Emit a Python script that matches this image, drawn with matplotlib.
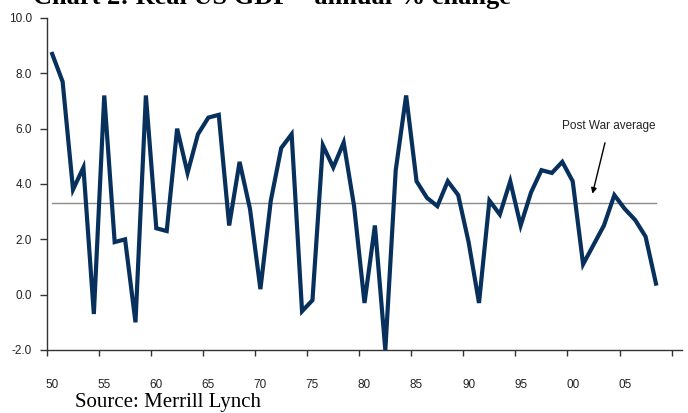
import numpy as np
import matplotlib
matplotlib.use('Agg')
import matplotlib.pyplot as plt

# annual real GDP growth, % change
years = np.arange(1950, 2009)
gdp = [8.7, 7.7, 3.8, 4.6, -0.7, 7.2, 1.9, 2.0, -1.0, 7.2,
       2.4, 2.3, 6.0, 4.4, 5.8, 6.4, 6.5, 2.5, 4.8, 3.1,
       0.2, 3.4, 5.3, 5.8, -0.6, -0.2, 5.4, 4.6, 5.5, 3.2,
       -0.3, 2.5, -2.0, 4.5, 7.2, 4.1, 3.5, 3.2, 4.1, 3.6,
       1.9, -0.3, 3.4, 2.9, 4.1, 2.5, 3.7, 4.5, 4.4, 4.8,
       4.1, 1.1, 1.8, 2.5, 3.6, 3.1, 2.7, 2.1, 0.4]
post_war_avg = 3.3

tick_years = np.arange(1950, 2010, 5)
tick_labels = ['50', '55', '60', '65', '70', '75', '80', '85', '90', '95', '00', '05']
y_ticks = [-2, 0, 2, 4, 6, 8, 10]

fig = plt.figure(figsize=(6.88, 4.13), dpi=100)
ax = fig.add_axes([47 / 688, 1 - 350 / 413, 635 / 688, 332 / 413])

ax.plot(years, gdp, color='#07305c', lw=3.0, solid_joinstyle='miter', zorder=3)
ax.plot([years[0], years[-1]], [post_war_avg, post_war_avg], color='#8c8c8c', lw=1.0, zorder=2)

ax.set_xlim(1949.5, 2010.5)
ax.set_ylim(-2, 10)

# ticks sit between categories, labels under the years
ax.set_xticks(np.arange(1949.5, 2010, 5))
ax.set_xticklabels([])
ax.set_xticks(tick_years, minor=True)
ax.set_xticklabels(tick_labels, minor=True)
ax.tick_params(axis='x', which='major', direction='out', length=4, width=1, color='#333333')
ax.tick_params(axis='x', which='minor', length=0, pad=21, labelsize=8.5, labelcolor='#222222')
ax.set_yticks(y_ticks)
ax.set_yticklabels(['%.1f' % v for v in y_ticks])
ax.tick_params(axis='y', direction='out', length=5, width=1, color='#333333',
               labelsize=8.5, labelcolor='#222222', pad=6)
for lbl in ax.get_xticklabels(minor=True) + ax.get_yticklabels():
    lbl.set_fontfamily('Liberation Sans')

for side in ['top', 'right']:
    ax.spines[side].set_visible(False)
for side in ['left', 'bottom']:
    ax.spines[side].set_color('#333333')
    ax.spines[side].set_linewidth(1.0)
ax.patch.set_alpha(0)

ax.annotate('Post War average', xy=(2001.9, 3.65), xytext=(2003.5, 6.1),
            ha='center', va='center', fontsize=8.5, family='Liberation Sans', color='#222222',
            arrowprops=dict(arrowstyle='-|>', color='black', lw=1.0, mutation_scale=8,
                            shrinkA=6, shrinkB=0))

# title is cut off at the top edge in the original
fig.text(33 / 688, 1 - 4 / 413, 'Chart 2: Real US GDP \u2013 annual % change', ha='left', va='baseline',
         fontsize=19, fontweight='bold', family='Liberation Serif')
fig.text(75 / 688, 1 - 402 / 413, 'Source: Merrill Lynch', ha='left', va='center',
         fontsize=15, family='Liberation Serif')

fig.savefig('out.png', dpi=100)
